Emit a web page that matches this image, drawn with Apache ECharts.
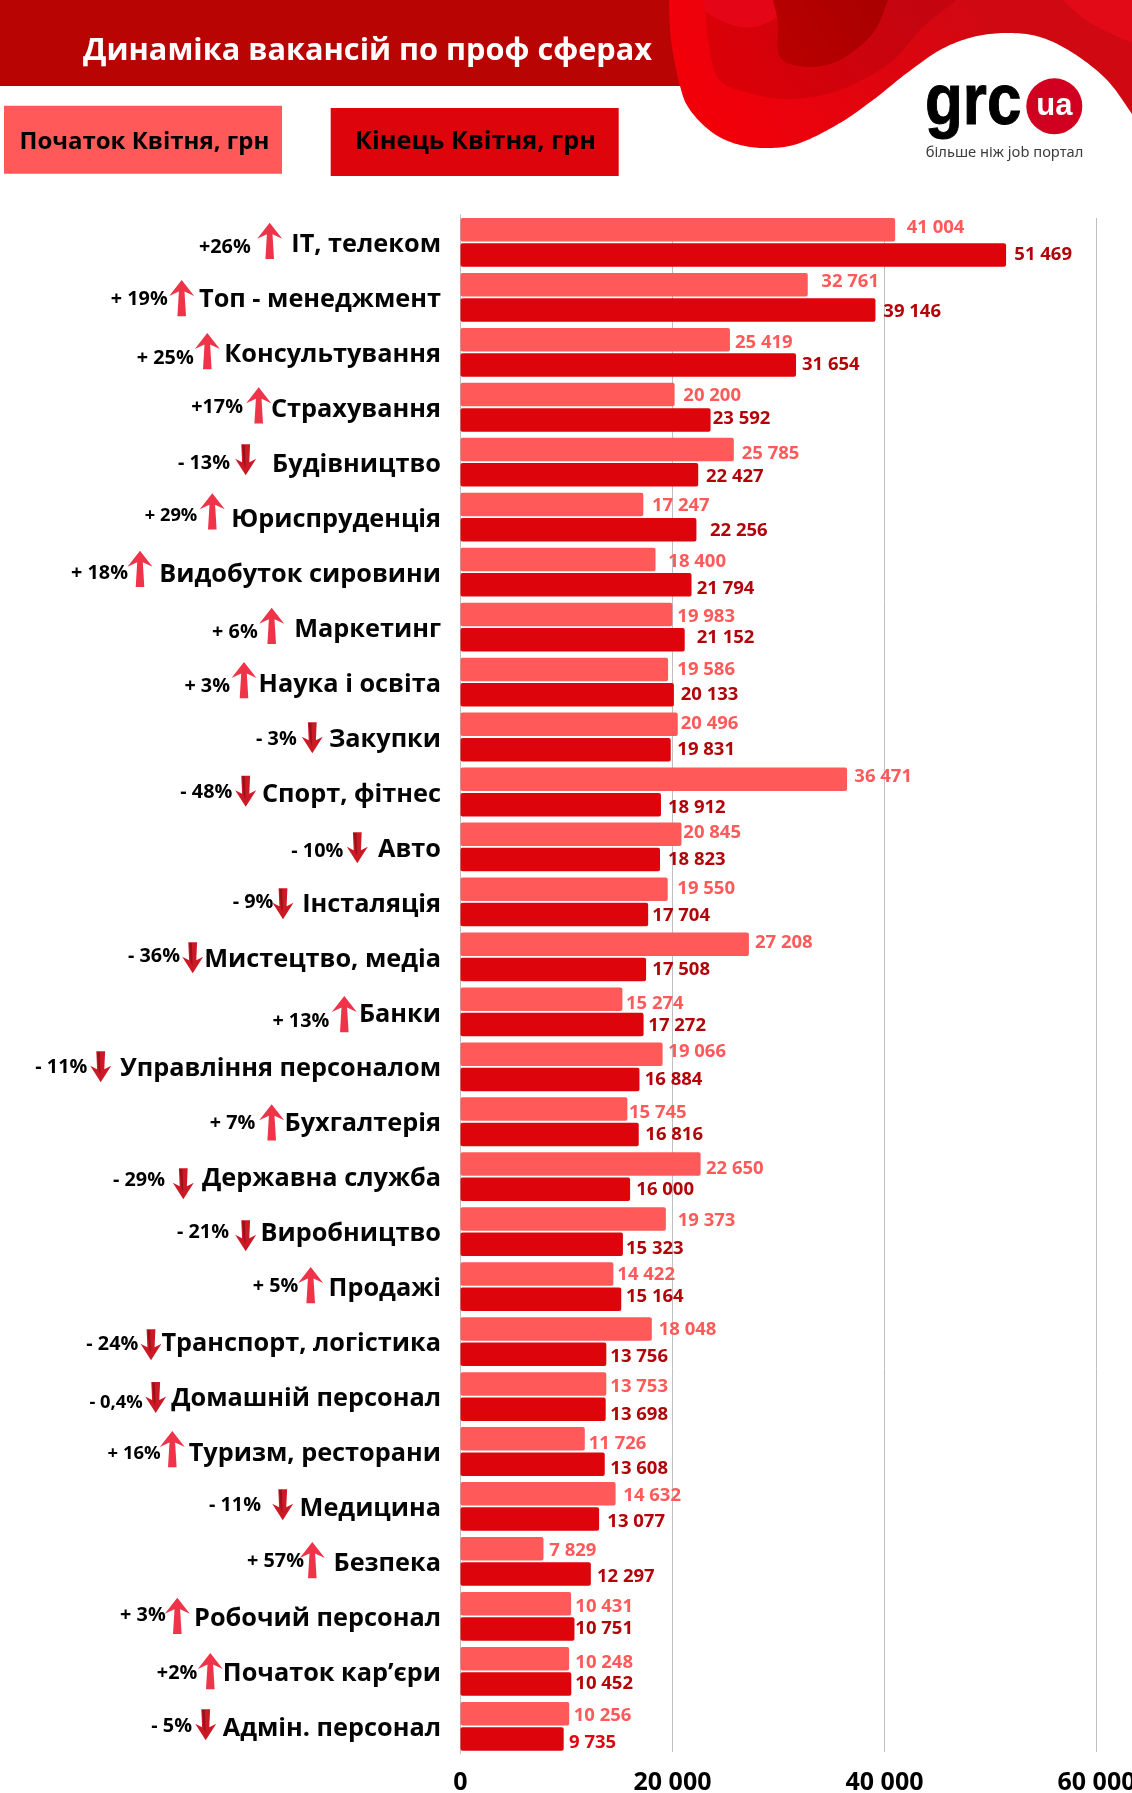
<!DOCTYPE html>
<html><head><meta charset="utf-8">
<style>html,body{margin:0;padding:0;background:#fff}#c{width:1132px;height:1793px}</style>
<script src="https://cdn.jsdelivr.net/npm/echarts@6/dist/echarts.min.js"></script>
</head><body><div id="c"></div>
<script>
// ---- data ----
const categories = ["ІТ, телеком","Топ - менеджмент","Консультування","Страхування","Будівництво","Юриспруденція","Видобуток сировини","Маркетинг","Наука і освіта","Закупки","Спорт, фітнес","Авто","Інсталяція","Мистецтво, медіа","Банки","Управління персоналом","Бухгалтерія","Державна служба","Виробництво","Продажі","Транспорт, логістика","Домашній персонал","Туризм, ресторани","Медицина","Безпека","Робочий персонал","Початок кар’єри","Адмін. персонал"];
const startValues = [41004,32761,25419,20200,25785,17247,18400,19983,19586,20496,36471,20845,19550,27208,15274,19066,15745,22650,19373,14422,18048,13753,11726,14632,7829,10431,10248,10256];
const endValues = [51469,39146,31654,23592,22427,22256,21794,21152,20133,19831,18912,18823,17704,17508,17272,16884,16816,16000,15323,15164,13756,13698,13608,13077,12297,10751,10452,9735];
const changeLabels = ["+26%","+ 19%","+ 25%","+17%","- 13%","+ 29%","+ 18%","+ 6%","+ 3%","- 3%","- 48%","- 10%","- 9%","- 36%","+ 13%","- 11%","+ 7%","- 29%","- 21%","+ 5%","- 24%","- 0,4%","+ 16%","- 11%","+ 57%","+ 3%","+2%","- 5%"];
const xTicks = [0,20000,40000,60000];
const seriesNames = ["Початок Квітня, грн","Кінець Квітня, грн"];
const titleText = "Динаміка вакансій по проф сферах";

// ---- annotation layout (hand-placed in the reference) ----
const startLabelX = [906.7,821.3,735,683.3,741.7,652,668.3,677.3,677.3,680.7,854.3,683.3,677.3,755,626,668.3,629,706,677.7,617.3,658.7,610.3,588.7,623.3,549.3,575.3,575.3,573.7];
const startLabelY = [227.3,280.7,341.7,395.3,452.7,504.7,561.3,616,669.3,722.7,775.7,832.3,888.3,942.3,1003.3,1051.3,1112.3,1168.3,1220.3,1274.3,1329.3,1386.3,1442.7,1494.7,1549.7,1605.7,1661.7,1714.7];
const endLabelX = [1014.3,883.3,802,712.7,706,710,696.7,696.7,680.7,677.3,668,668,652.3,652.3,648.3,644.7,645.3,636.3,626,626,610.3,610.3,610.3,607.3,597,575.3,575.3,569];
const endLabelY = [254.3,310.7,363.7,417.7,476.3,530.3,588.3,637.3,694.3,749.3,807.3,859.3,915.3,969.3,1025.3,1079,1134.3,1189.3,1247.7,1296.3,1356.3,1413.7,1468.3,1521.3,1575.7,1627.7,1682.7,1742.3];
const changeRight = [250.7,167.7,193.7,243,230,197.3,128,257.7,230,296.7,232.3,343.3,273.3,180,329.3,87.3,255.3,165,229,298.3,138.3,142.7,160.7,261,304,165.7,197.3,192];
const changeY = [246.7,298.7,357.7,407,463,515.3,573,632,686,738.3,792,851,902,956,1021,1067,1122.7,1180,1232,1286,1343.7,1402.3,1453.3,1505,1561,1615,1672.3,1726];
const changeFont = {5: 18.3, 21: 18.3, 22: 18.5};
const arrowX = [269.7,181.7,207.3,258.7,245.7,212.3,140,271.7,244,312.3,245.7,357.3,283,192.7,344.3,100.7,271.7,183.3,245.7,310.7,151,155.7,172.3,282.7,312.3,177.3,210.3,205.7];
const arrowTop = [222.7,280,333,387.3,444.3,493.3,550.7,607.7,662,722.3,775.7,832.3,888.3,942.3,996,1051.3,1104.3,1168.3,1220.3,1267,1329.3,1382,1431,1489.3,1542,1597.7,1653,1709.3];

const F = '"Open Sans"';
const LIGHT = '#ff5959', DARK = '#dd040c', LIGHT_TXT = '#ff5a5a', DARK_TXT = '#b20509';
const plotLeft = 460.5, plotWidth = 636, xMax = 60000;
const rowH = 54.96, barH = 23.5;
const fmt = v => String(v).replace(/\B(?=(\d{3})+$)/g, ' ');
const barEnd = v => plotLeft + v / xMax * plotWidth;

function barData(values, labelX, labelY, firstCentre, colorOf) {
  return values.map((v, i) => ({
    value: v,
    label: {
      color: colorOf(i),
      offset: [labelX[i] - barEnd(v), labelY[i] + 0.6 - (firstCentre + rowH * i)]
    }
  }));
}

const chart = echarts.init(document.getElementById('c'), null, {renderer: 'canvas'});

// sample a smooth Catmull-Rom curve through the points
function curve(pts) {
  const out = [];
  for (let i = 0; i < pts.length - 1; i++) {
    const p0 = pts[Math.max(i - 1, 0)], p1 = pts[i], p2 = pts[i + 1], p3 = pts[Math.min(i + 2, pts.length - 1)];
    for (let k = 0; k < 12; k++) {
      const t = k / 12, t2 = t * t, t3 = t2 * t;
      out.push([0, 1].map(a => 0.5 * (2 * p1[a] + (p2[a] - p0[a]) * t + (2 * p0[a] - 5 * p1[a] + 4 * p2[a] - p3[a]) * t2 + (3 * p1[a] - p0[a] - 3 * p2[a] + p3[a]) * t3)));
    }
  }
  out.push(pts[pts.length - 1]);
  return out;
}
function blob(pts, tail, fill) {
  return {type: 'polygon', silent: true, shape: {points: curve(pts).concat(tail)}, style: {fill}};
}
const grad = (x, y, x2, y2, a, b) => ({type: 'linear', x, y, x2, y2, colorStops: [{offset: 0, color: a}, {offset: 1, color: b}]});

const mainEdge = [[669,0],[671,40],[680,86],[690,110],[713,133],[740,145],[770,148],[800,143],[840,123],[873,100],[907,73],[940,50],[973,37],[1007,33],[1040,37],[1073,53],[1107,80],[1132,114]];
const midEdge = [[705,0],[708,40],[718,78],[745,92],[790,99],[840,90],[890,63],[923,27],[957,0]];
const deepEdge = [[773,0],[778,23],[780,57],[807,67],[840,60],[873,33],[888,0]];
const tlEdge = [[705,0],[707,13],[740,27],[767,23],[803,0]];
const trEdge = [[1063,0],[1090,23],[1132,43]];

const header = [
  {type: 'rect', shape: {x: 0, y: 0, width: 700, height: 86}, style: {fill: '#b90404'}},
  blob(mainEdge, [[1132,0]], grad(0.15, 1, 0.65, 0, '#f2000a', '#d00812')),
  blob(midEdge, [], grad(0.2, 1, 0.8, 0, '#da0008', '#c40510')),
  blob(tlEdge, [], '#e40616'),
  blob(deepEdge, [], grad(0, 1, 1, 0, '#bb0000', '#a80000')),
  blob(trEdge, [[1132,0]], '#e30a18'),
  {type: 'text', x: 83, y: 51, style: {text: titleText, fill: '#fff', font: `bold 30.7px ${F}`, textVerticalAlign: 'middle'}},
  {type: 'rect', shape: {x: 4, y: 105.7, width: 278, height: 68}, style: {fill: LIGHT}},
  {type: 'text', x: 19.5, y: 142, style: {text: seriesNames[0], fill: '#000', font: `bold 24px ${F}`, textVerticalAlign: 'middle'}},
  {type: 'rect', shape: {x: 330.7, y: 108, width: 288, height: 68}, style: {fill: DARK}},
  {type: 'text', x: 355, y: 142, style: {text: seriesNames[1], fill: '#000', font: `bold 25.3px ${F}`, textVerticalAlign: 'middle'}},
  // logo
  {type: 'text', x: 925, y: 104.5, scaleX: 0.86, style: {text: 'grc', fill: '#000', stroke: '#000', lineWidth: 1, font: 'bold 72px "Liberation Sans"', textVerticalAlign: 'middle'}},
  {type: 'circle', shape: {cx: 1054.3, cy: 106.3, r: 28}, style: {fill: '#d20020'}},
  {type: 'text', x: 1054.3, y: 106, style: {text: 'ua', fill: '#fff', font: 'bold 31px "Liberation Sans"', textAlign: 'center', textVerticalAlign: 'middle'}},
  {type: 'text', x: 925.7, y: 153, style: {text: 'більше ніж job портал', fill: '#3c3c3c', font: '14.7px "Noto Sans"', textVerticalAlign: 'middle'}}
];

function arrow(i) {
  const up = changeLabels[i].charAt(0) === '+';
  const x = arrowX[i], y = arrowTop[i];
  if (up) {
    return [{
      type: 'polygon', x, y, silent: true,
      shape: {points: [[0,0],[12.5,16],[2.8,11.5],[4.3,36.3],[-4.3,36.3],[-2.8,11.5],[-12.5,16]]},
      style: {fill: '#ef3349'}
    }];
  }
  return [{
    type: 'polygon', x, y, silent: true,
    shape: {points: [[-4.4,0],[4.4,0],[3.6,18],[10.5,14.5],[0,31],[-10.5,14.5],[-3.6,18]]},
    style: {fill: '#cb1a25'}
  }, {
    type: 'polygon', x, y, silent: true,
    shape: {points: [[-3.6,0.6],[-0.8,0.6],[-0.3,24],[-1.8,20]]},
    style: {fill: '#98101a'}
  }];
}
const annotations = categories.flatMap((c, i) => [
  {type: 'text', x: changeRight[i], y: changeY[i] + 0.8, silent: true,
   style: {text: changeLabels[i], fill: '#000', font: `bold ${changeFont[i] || 19.8}px ${F}`, textAlign: 'right', textVerticalAlign: 'middle'}},
  ...arrow(i)
]);

const barLabel = {show: true, position: 'right', distance: 0, fontFamily: F, fontSize: 18.5, fontWeight: 'bold', formatter: p => fmt(p.value)};

chart.setOption({
  animation: false,
  backgroundColor: '#fff',
  grid: [
    {left: plotLeft, width: plotWidth, top: 214.9, height: rowH * 28, outerBoundsMode: 'none'},
    {left: plotLeft, width: plotWidth, top: 218, height: 1534, outerBoundsMode: 'none'}
  ],
  xAxis: [
    {type: 'value', gridIndex: 0, min: 0, max: xMax, interval: 20000, show: false},
    {type: 'value', gridIndex: 1, min: 0, max: xMax, interval: 20000,
     axisLine: {show: false}, axisTick: {show: false},
     splitLine: {show: true, lineStyle: {color: '#bfbfbf', width: 1}},
     axisLabel: {color: '#000', fontFamily: F, fontWeight: 700, fontSize: 25, margin: 18, hideOverlap: false, showMinLabel: true, showMaxLabel: true,
       customValues: xTicks, formatter: v => fmt(v)}}
  ],
  yAxis: [
    {type: 'category', gridIndex: 0, inverse: true, data: categories,
     axisLine: {show: true, lineStyle: {color: '#bfbfbf', width: 1}}, axisTick: {show: false}, splitLine: {show: false},
     axisLabel: {color: '#050505', fontFamily: F, fontWeight: 700, fontSize: 25.3, margin: 19.5, interval: 0, align: 'right', verticalAlign: 'top', lineHeight: 5}},
    {type: 'value', gridIndex: 1, min: 0, max: 1, show: false, splitLine: {show: false}}
  ],
  series: [
    {name: seriesNames[0], type: 'bar', xAxisIndex: 0, yAxisIndex: 0, barWidth: barH, barGap: '7.7%',
     itemStyle: {color: LIGHT, borderRadius: 2},
     label: barLabel,
     data: barData(startValues, startLabelX, startLabelY, 229.75, () => LIGHT_TXT)},
    {name: seriesNames[1], type: 'bar', xAxisIndex: 0, yAxisIndex: 0, barWidth: barH,
     itemStyle: {color: DARK, borderRadius: 2},
     label: barLabel,
     data: barData(endValues, endLabelX, endLabelY, 255.05, i => i === endValues.length - 1 ? '#e0060f' : DARK_TXT)}
  ],
  graphic: {elements: header.concat(annotations)}
});
</script></body></html>
